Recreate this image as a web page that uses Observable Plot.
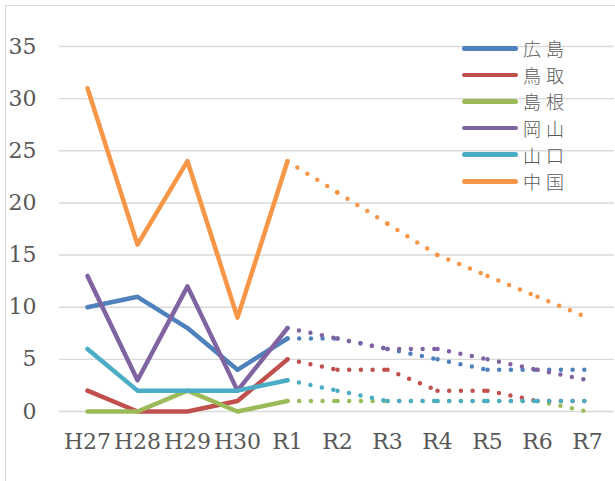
<!DOCTYPE html>
<html>
<head>
<meta charset="utf-8">
<script src="https://cdn.jsdelivr.net/npm/d3@7"></script>
<script src="https://cdn.jsdelivr.net/npm/@observablehq/plot@0.6"></script>
<style>
  html, body { margin: 0; padding: 0; background: #fff; overflow: hidden; }
  #wrap { position: relative; width: 615px; height: 481px; overflow: hidden; }
  #border { position: absolute; left: 5px; top: 5px; width: 640px; height: 520px;
            border: 1.5px solid #d9d9d9; box-sizing: border-box; }
  #chart { position: absolute; left: 0; top: 0; }
  #chart svg text { font-family: "DejaVu Serif", "Liberation Serif", serif !important; fill: #595959; }
  #legend { position: absolute; left: 462px; top: 35px; font-family: "Noto Sans CJK JP", sans-serif;
            font-size: 18px; color: #595959; font-weight: 300; }
  .item { display: flex; align-items: center; height: 26.6px; }
  .swatch { width: 56px; height: 4.5px; border-radius: 3px; margin-right: 5px; flex: none; }
  .label { display: block; letter-spacing: 5px; line-height: 22px; }
</style>
</head>
<body>
<div id="wrap">
  <div id="border"></div>
  <div id="chart"></div>
  <div id="legend"></div>
</div>
<script>
const years = ["H27","H28","H29","H30","R1","R2","R3","R4","R5","R6","R7"];
const names = ["広島","鳥取","島根","岡山","山口","中国"];
const colors = ["#4F81BD","#C0504D","#9BBB59","#8064A2","#4BACC6","#F79646"];
const hiroshima = [10,11,8,4,7,7,6,5,4,4,4];
const tottori   = [2,0,0,1,5,4,4,2,2,1,1];
const shimane   = [0,0,2,0,1,1,1,1,1,1,0];
const okayama   = [13,3,12,2,8,7,6,6,5,4,3];
const yamaguchi = [6,2,2,2,3,2,1,1,1,1,1];
const chugoku   = [31,16,24,9,24,21,18,15,13,11,9];
const yTicks = [0,5,10,15,20,25,30,35];
const lastActual = "R1";

const seriesValues = [hiroshima, tottori, shimane, okayama, yamaguchi, chugoku];
const split = years.indexOf(lastActual);

const solid = [];
const dotted = [];
seriesValues.forEach((vals, s) => {
  vals.forEach((v, i) => {
    if (i <= split) solid.push({name: names[s], year: years[i], value: v});
  });
  for (let i = split; i < vals.length - 1; i++) {
    const seg = `${names[s]}-${i}`;
    dotted.push({name: names[s], seg, year: years[i], value: vals[i]});
    dotted.push({name: names[s], seg, year: years[i + 1], value: vals[i + 1]});
  }
});

const chart = Plot.plot({
  width: 615,
  height: 481,
  marginLeft: 59,
  marginRight: 1,
  marginTop: 46,
  marginBottom: 70,
  style: {fontFamily: "'DejaVu Serif', serif", fontSize: "22px", color: "#595959", background: "transparent"},
  x: {type: "point", domain: years, padding: 0.5, label: null},
  y: {domain: [0, 35], label: null},
  color: {domain: names, range: colors},
  marks: [
    Plot.ruleY(yTicks, {stroke: "#d9d9d9", strokeWidth: 1.4}),
    Plot.axisY({ticks: yTicks, tickSize: 0, tickPadding: 23, label: null, fontSize: 22}),
    Plot.axisX({tickSize: 0, tickPadding: 22, label: null, fontSize: 22}),
    Plot.line(dotted, {x: "year", y: "value", z: "seg", stroke: "name",
      strokeWidth: 4.5, strokeDasharray: "0 11.7", strokeLinecap: "round"}),
    Plot.line(solid, {x: "year", y: "value", z: "name", stroke: "name",
      strokeWidth: 4.5, strokeLinecap: "round", strokeLinejoin: "round"})
  ]
});
document.getElementById("chart").appendChild(chart);

const legend = document.getElementById("legend");
names.forEach((n, i) => {
  const item = document.createElement("div");
  item.className = "item";
  item.innerHTML = `<div class="swatch" style="background:${colors[i]}"></div><span class="label">${n}</span>`;
  legend.appendChild(item);
});
</script>
</body>
</html>
